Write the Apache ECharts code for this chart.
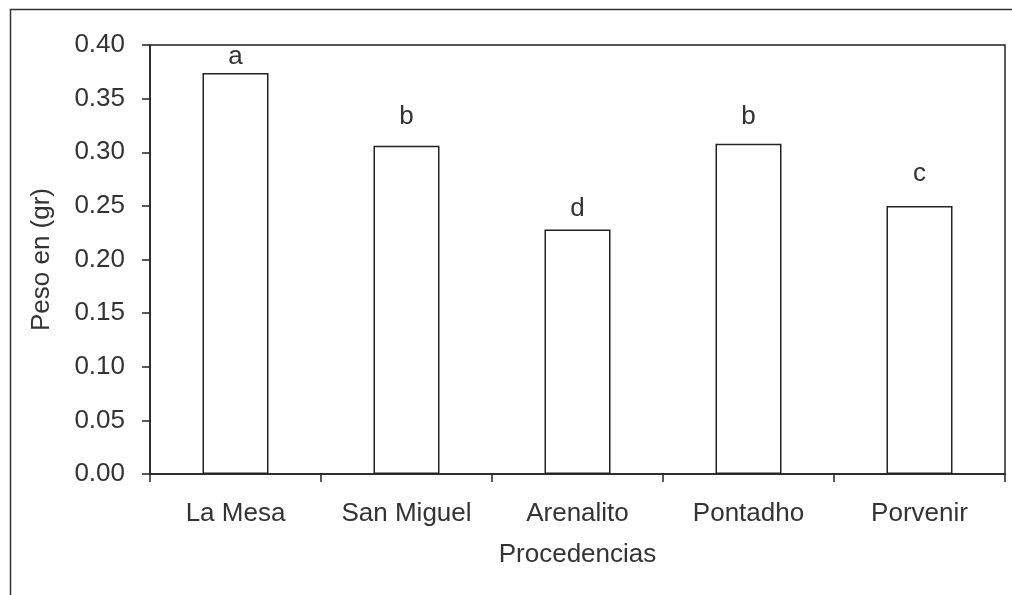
<!DOCTYPE html>
<html>
<head>
<meta charset="utf-8">
<style>
  html, body { margin: 0; padding: 0; background: #ffffff; }
  #chart { width: 1012px; height: 595px; }
</style>
<script src="https://cdn.jsdelivr.net/npm/echarts@6/dist/echarts.min.js"></script>
</head>
<body>
<div id="chart"></div>
<script>
// Mean weight per origin, with significance letters
const categories = ['La Mesa', 'San Miguel', 'Arenalito', 'Pontadho', 'Porvenir'];
const pesoValues = [0.374, 0.306, 0.228, 0.308, 0.250];
const groupLetters = ['a', 'b', 'd', 'b', 'c'];
const yTicks = [0.00, 0.05, 0.10, 0.15, 0.20, 0.25, 0.30, 0.35, 0.40];

// Vertical spacing between each bar top and its letter
const letterGap = [3, 16, 8, 14, 19];

const ink = '#222222';
const textInk = '#333333';
const font = 'Liberation Sans, Arial, sans-serif';
const fs = 26;

const chart = echarts.init(document.getElementById('chart'), null, { renderer: 'canvas' });

const barData = pesoValues.map((v, i) => ({
  value: v,
  label: { show: true, formatter: groupLetters[i], distance: letterGap[i] }
}));

chart.setOption({
  animation: false,
  backgroundColor: '#ffffff',
  graphic: [{
    type: 'rect',
    left: 8, top: 7,
    shape: { width: 1030, height: 620 },
    style: { fill: 'none', stroke: '#333333', lineWidth: 1.5 },
    silent: true
  }],
  grid: {
    left: 150, right: 7, top: 45, bottom: 121,
    show: true, borderColor: ink, borderWidth: 1.5, backgroundColor: 'transparent'
  },
  xAxis: {
    type: 'category',
    data: categories,
    boundaryGap: true,
    name: 'Procedencias',
    nameLocation: 'middle',
    nameGap: 68,
    nameTextStyle: { fontFamily: font, fontSize: fs, color: textInk },
    axisLine: { lineStyle: { color: ink, width: 1.5 } },
    axisTick: { show: true, alignWithLabel: false, length: 8, lineStyle: { color: ink, width: 1.5 } },
    axisLabel: { fontFamily: font, fontSize: fs, color: textInk, margin: 27 },
    splitLine: { show: false }
  },
  yAxis: {
    type: 'value',
    min: 0, max: 0.4, interval: 0.05,
    name: 'Peso en (gr)',
    nameLocation: 'middle',
    nameRotate: 90,
    nameGap: 95,
    nameTextStyle: { fontFamily: font, fontSize: fs, color: textInk },
    axisLine: { show: true, lineStyle: { color: ink, width: 1.5 } },
    axisTick: { show: true, length: 8, lineStyle: { color: ink, width: 1.5 } },
    axisLabel: {
      fontFamily: font, fontSize: fs, color: textInk, margin: 25,
      formatter: v => {
        const t = yTicks.find(x => Math.abs(x - v) < 1e-9);
        return (t !== undefined ? t : v).toFixed(2);
      }
    },
    splitLine: { show: false }
  },
  series: [{
    type: 'bar',
    data: barData,
    barWidth: 66,
    itemStyle: { color: '#ffffff', borderColor: ink, borderWidth: 1.5 },
    label: {
      show: true, position: 'top',
      fontFamily: font, fontSize: fs, color: textInk
    }
  }]
});
</script>
</body>
</html>
